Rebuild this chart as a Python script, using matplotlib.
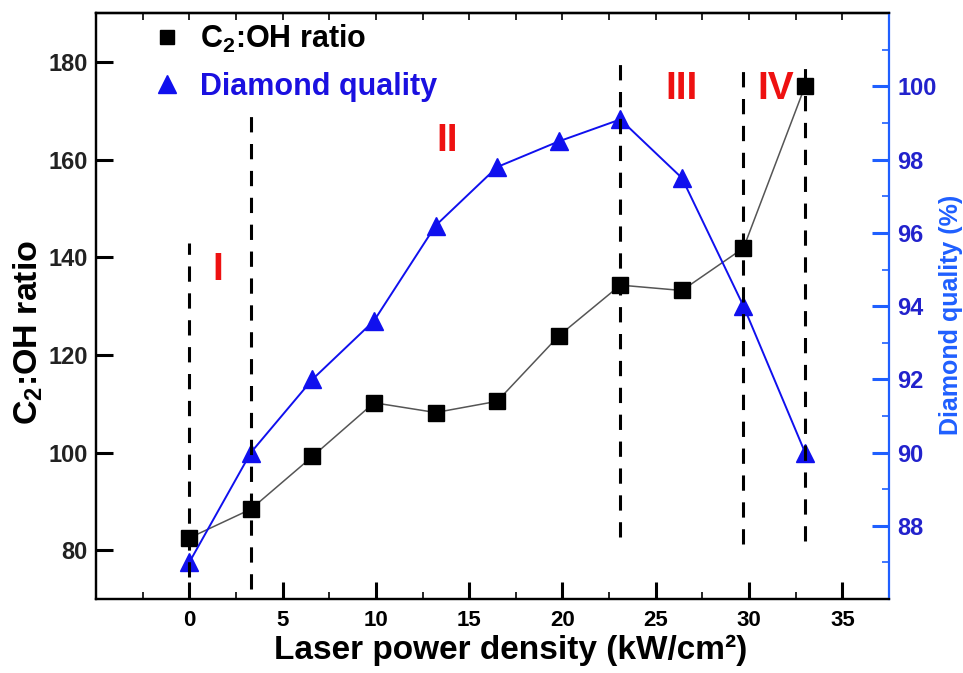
import matplotlib
matplotlib.use("Agg")
import matplotlib.pyplot as plt
from matplotlib.lines import Line2D
from matplotlib.ticker import MultipleLocator, NullFormatter

plt.rcParams['font.family'] = ['Liberation Sans', 'DejaVu Sans']
plt.rcParams['font.weight'] = 'bold'
plt.rcParams['mathtext.fontset'] = 'custom'
plt.rcParams['mathtext.rm'] = 'Liberation Sans:bold'
plt.rcParams['mathtext.it'] = 'Liberation Sans:bold'
plt.rcParams['mathtext.bf'] = 'Liberation Sans:bold'
plt.rcParams['mathtext.default'] = 'rm'

# data
power = [0, 3.3, 6.6, 9.9, 13.2, 16.5, 19.8, 23.1, 26.4, 29.7, 33.0]
c2oh = [82.5, 88.4, 99.2, 110.2, 108.2, 110.5, 123.9, 134.3, 133.2, 141.9, 175.1]
quality = [87.0, 90.0, 92.0, 93.6, 96.2, 97.8, 98.5, 99.1, 97.5, 94.0, 90.0]

boundary_x = [0, 3.3, 23.1, 29.7, 33.0]
boundary_bottom = [74.5, 72.0, 82.6, 81.2, 81.8]
boundary_top = [142.9, 169.6, 180.2, 178.8, 179.6]

region_labels = ["I", "II", "III", "IV"]
region_x = [1.5, 13.8, 26.4, 31.4]
region_y = [137.3, 163.9, 174.5, 174.5]

blue = '#1010ee'
axis_blue = '#1f5fff'

fig = plt.figure(figsize=(9.63, 6.73), dpi=100)
ax = fig.add_axes([0.0997, 0.1100, 0.8235, 0.8703])
ax2 = ax.twinx()

ax.set_xlim(-5, 37.5)
ax.set_ylim(70, 190)
ax2.set_ylim(86, 102)

ax.plot(power, c2oh, color='#555555', lw=1.1, marker='s', ms=11,
        mfc='black', mec='black', zorder=3)
ax2.plot(power, quality, color=blue, lw=1.4, marker='^', ms=13,
         mfc=blue, mec=blue, zorder=3)

for xb, yb0, yb1 in zip(boundary_x, boundary_bottom, boundary_top):
    ax2.plot([xb, xb], [86 + (yb0 - 70) * 16 / 120, 86 + (yb1 - 70) * 16 / 120],
             color='black', lw=2.2, dashes=(5, 3.8), zorder=5)

for lab, xr, yr in zip(region_labels, region_x, region_y):
    ax.text(xr, yr, lab, color='#ee1111', fontsize=28, fontweight='bold',
            ha='center', va='center', family='Liberation Sans')

# axes styling
for s in ['left', 'top', 'bottom']:
    ax.spines[s].set_linewidth(1.6)
    ax2.spines[s].set_linewidth(1.6)
ax2.spines['right'].set_color(axis_blue)
ax2.spines['right'].set_linewidth(1.6)
ax.spines['right'].set_visible(False)

ax.set_xticks([0, 5, 10, 15, 20, 25, 30, 35])
ax.xaxis.set_minor_locator(MultipleLocator(2.5))
ax.set_yticks([80, 100, 120, 140, 160, 180])
ax2.set_yticks([88, 90, 92, 94, 96, 98, 100])
ax2.yaxis.set_minor_locator(MultipleLocator(1))

ax.tick_params(axis='x', which='major', direction='in', length=12, width=2.2,
               labelsize=16, pad=8, top=False)
ax.tick_params(axis='x', which='minor', direction='in', length=5, width=1.2, top=False)
ax.tick_params(axis='y', which='major', direction='in', length=12, width=2.2,
               labelsize=17, labelcolor='#222222', pad=6)
ax2.tick_params(axis='y', which='major', direction='in', length=12, width=2.2,
                color=axis_blue, labelcolor='#2222cc', labelsize=17, pad=6)
ax2.tick_params(axis='y', which='minor', direction='in', length=5, width=1.2,
                color=axis_blue)
for t in ax.get_xticklabels() + ax.get_yticklabels() + ax2.get_yticklabels():
    t.set_fontweight('bold')

top = ax.secondary_xaxis('top')
top.xaxis.set_major_locator(MultipleLocator(2.5))
top.xaxis.set_major_formatter(NullFormatter())
top.tick_params(direction='in', length=5, width=1.2)
top.spines['top'].set_linewidth(1.6)

ax.set_xlabel('Laser power density (kW/cm²)', fontsize=24, fontweight='bold')
ax.xaxis.label.set_verticalalignment('center')
ax.xaxis.set_label_coords(0.523, -0.087)
ax.set_ylabel('C$_2$:OH ratio', fontsize=24.5, fontweight='bold')
ax.yaxis.label.set_verticalalignment('center')
ax.yaxis.set_label_coords(-0.086, 0.455)
ax2.set_ylabel('Diamond quality (%)', fontsize=18, fontweight='bold', color=axis_blue,
               rotation=90)
ax2.yaxis.label.set_verticalalignment('center')
ax2.yaxis.set_label_coords(1.078, 0.485)

handles = [Line2D([], [], ls='none', marker='s', ms=10, mfc='black', mec='black'),
           Line2D([], [], ls='none', marker='^', ms=13, mfc=blue, mec=blue)]
leg = ax.legend(handles, ['C$_2$:OH ratio', 'Diamond quality'], loc='upper left',
                bbox_to_anchor=(0.035, 1.03), frameon=False,
                prop={'size': 22, 'weight': 'bold'}, handletextpad=0.6,
                labelspacing=0.55, handlelength=1.0)
leg.get_texts()[0].set_color('black')
leg.get_texts()[1].set_color('#1a10e0')
leg.set_zorder(10)

fig.savefig('out.png', dpi=100)
